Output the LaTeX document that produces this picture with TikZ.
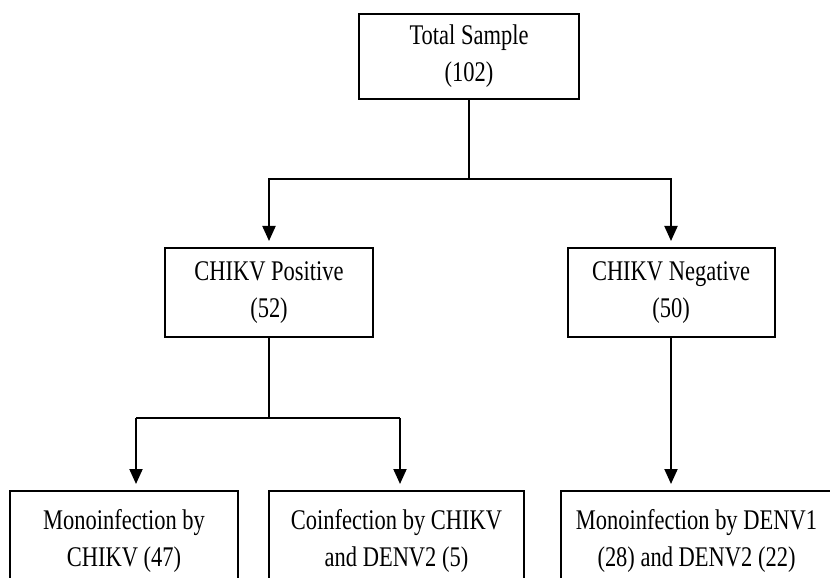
\documentclass[tikz,border=0pt]{standalone}
\usepackage{fontspec}
\setmainfont{Liberation Serif}[FakeStretch=0.79]
\usetikzlibrary{arrows.meta}

\begin{document}
\begin{tikzpicture}[
  box/.style={draw, line width=0.04cm, align=center, inner sep=0pt},
  wire/.style={line width=0.04cm},
  flow/.style={wire, -{Triangle[length=0.3cm, width=0.26cm]}, shorten >=0.12cm},
  font=\fontsize{16.2}{21}\selectfont]
  % 1 cm = 50 px of the original chart, bottom row runs off the page
  \clip (0,0) rectangle (16.6,11.54);
  \node[box, minimum width=4.4cm, minimum height=1.7cm] (total) at (9.38,10.41) {Total Sample\\(102)};
  \node[box, minimum width=4.16cm, minimum height=1.78cm] (pos) at (5.38,5.69) {CHIKV Positive\\(52)};
  \node[box, minimum width=4.14cm, minimum height=1.78cm] (neg) at (13.42,5.69) {CHIKV Negative\\(50)};
  \node[box, minimum width=4.56cm, minimum height=2.0cm, anchor=north] (monoc) at (2.48,1.74) {Monoinfection by\\CHIKV (47)};
  \node[box, minimum width=5.1cm, minimum height=2.0cm, anchor=north] (coinf) at (7.93,1.74) {Coinfection by CHIKV\\and DENV2 (5)};
  \node[box, minimum width=5.42cm, minimum height=2.0cm, anchor=north] (monod) at (13.93,1.74) {Monoinfection by DENV1\\(28) and DENV2 (22)};
  % first split
  \coordinate (split1) at (total.south |- 0,7.96);
  \draw[wire] (total.south) -- (split1);
  \draw[flow] (split1) -| (pos.north);
  \draw[flow] (split1) -| (neg.north);
  % second split
  \coordinate (split2) at (pos.south |- 0,3.18);
  \coordinate (leg1) at (2.72,3.18);
  \coordinate (leg2) at (8.0,3.18);
  \draw[wire] (pos.south) -- (split2);
  \draw[wire] (leg1) -- (leg2);
  \draw[flow] (leg1) -- (leg1 |- monoc.north);
  \draw[flow] (leg2) -- (leg2 |- coinf.north);
  \draw[flow] (neg.south) -- (neg.south |- monod.north);
\end{tikzpicture}
\end{document}
